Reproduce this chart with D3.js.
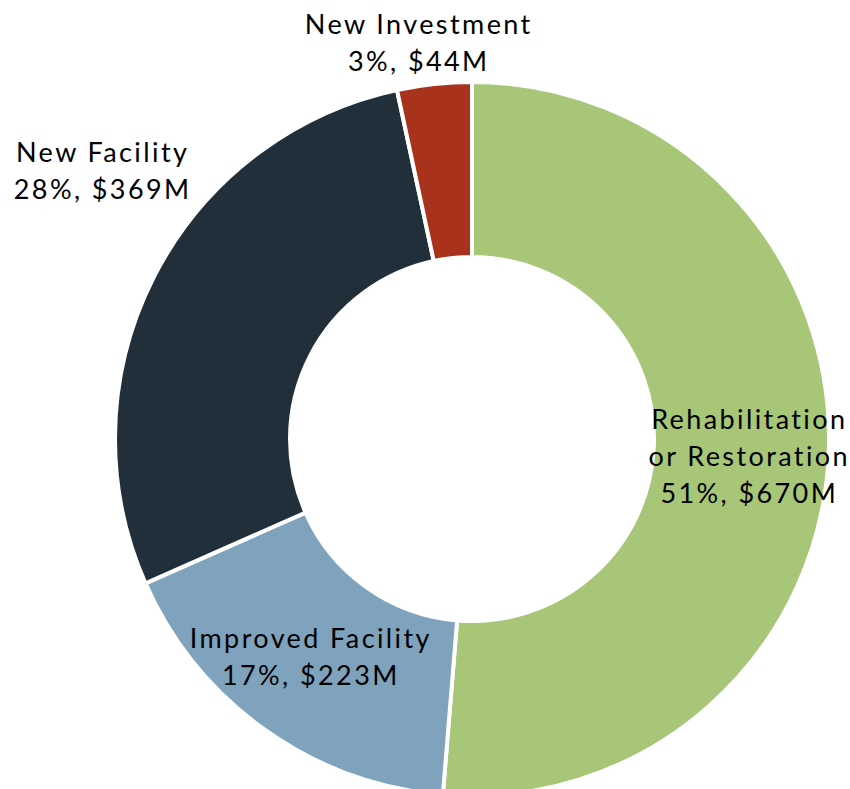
<!DOCTYPE html>
<html>
<head>
<meta charset="utf-8">
<script src="https://cdn.jsdelivr.net/npm/d3@7"></script>
<style>
  body { margin: 0; background: #fff; }
  text { font-family: Lato, "Open Sans", sans-serif; fill: #000; font-variant-ligatures: none; }
</style>
</head>
<body>
<div id="chart"></div>
<script>
const width = 850;
const height = 789;

// categories and values ($M), clockwise from 12 o'clock
const categories = ["Rehabilitation\nor Restoration", "Improved Facility", "New Facility", "New Investment"];
const values = [670, 223, 369, 44];
const colors = ["#a7c677", "#7fa3bc", "#212f3b", "#a8321c"];

// label placement: inside labels sit on the slice centroid, outside ones on a wider ring
const outside = [false, false, true, true];
const nudge = [[8, 6], [-5, -2], [-13, -87], [-11, 2]];

const cx = 472;
const cy = 439;
const outerR = 357;
const innerR = 182;
const lineH = 37;
const fontSize = 27;

const total = d3.sum(values);
const data = categories.map((c, i) => ({ name: c, value: values[i], i: i }));

const svg = d3.select("#chart")
  .append("svg")
  .attr("width", width)
  .attr("height", height);

const g = svg.append("g").attr("transform", `translate(${cx},${cy})`);

const pie = d3.pie().value(d => d.value).sort(null);
const arc = d3.arc().innerRadius(innerR).outerRadius(outerR);
const labelArc = d3.arc().innerRadius(400).outerRadius(400);

const arcs = pie(data);

g.selectAll("path")
  .data(arcs)
  .enter()
  .append("path")
  .attr("d", arc)
  .attr("fill", d => colors[d.data.i])
  .attr("stroke", "#fff")
  .attr("stroke-width", 4)
  .attr("stroke-linejoin", "miter");

// text widened a bit with letter spacing to get closer to the original geometric face
g.selectAll("text.lbl")
  .data(arcs)
  .enter()
  .append("text")
  .attr("class", "lbl")
  .attr("text-anchor", "middle")
  .attr("font-size", fontSize)
  .attr("letter-spacing", "2.4px")
  .each(function(d) {
    const i = d.data.i;
    const p = outside[i] ? labelArc.centroid(d) : arc.centroid(d);
    const x = p[0] + nudge[i][0];
    const y = p[1] + nudge[i][1];
    const pct = Math.round(d.data.value / total * 100);
    const lines = d.data.name.split("\n").concat([`${pct}%, $${d.data.value}M`]);
    const first = y - (lines.length - 1) * lineH / 2 + fontSize * 0.36;
    const t = d3.select(this);
    lines.forEach((ln, k) => {
      t.append("tspan")
        .attr("x", x)
        .attr("y", first + k * lineH)
        .text(ln);
    });
  });
</script>
</body>
</html>
